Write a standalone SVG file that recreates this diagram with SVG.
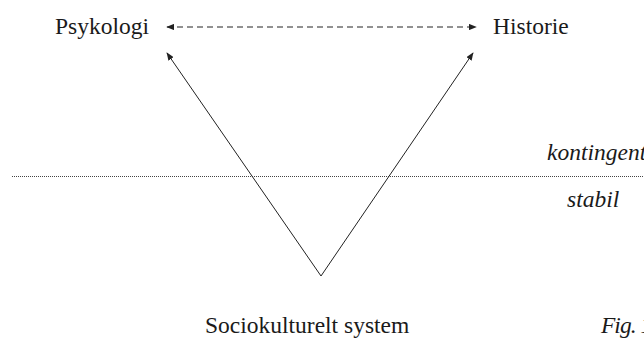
<svg xmlns="http://www.w3.org/2000/svg" width="644" height="338" viewBox="0 0 644 338">
<style>
text{font-family:'Liberation Serif','DejaVu Serif',serif;font-size:23.5px;fill:#1a1a1a}
.i{font-style:italic}
.c{stroke:#222;stroke-width:1;fill:none}
</style>
<defs>
<marker id="ah" viewBox="0 0 10 8" refX="9" refY="4" markerWidth="8" markerHeight="6.4" markerUnits="userSpaceOnUse" orient="auto-start-reverse">
<path d="M0,0 L10,4 L0,8 Z" fill="#222"/>
</marker>
</defs>
<rect width="644" height="338" fill="#fff"/>
<g id="psykologi"><text x="55" y="34">Psykologi</text></g>
<g id="historie"><text x="493" y="34">Historie</text></g>
<g id="sociokulturelt"><text x="205" y="333">Sociokulturelt system</text></g>
<g id="kontingent"><text class="i" x="547" y="160">kontingent</text></g>
<g id="stabil"><text class="i" x="567" y="207">stabil</text></g>
<g id="fig"><text class="i" x="601" y="333" letter-spacing="-1">Fig. 1</text></g>
<line x1="12" y1="176.5" x2="644" y2="176.5" stroke="#444" stroke-width="1" stroke-dasharray="1,1"/>
<g id="connectors">
<line class="c" x1="167" y1="27" x2="476" y2="27" stroke-dasharray="6,4" marker-start="url(#ah)" marker-end="url(#ah)"/>
<line class="c" x1="321" y1="276" x2="167" y2="53" marker-end="url(#ah)"/>
<line class="c" x1="321" y1="276" x2="473" y2="53" marker-end="url(#ah)"/>
</g>
</svg>
